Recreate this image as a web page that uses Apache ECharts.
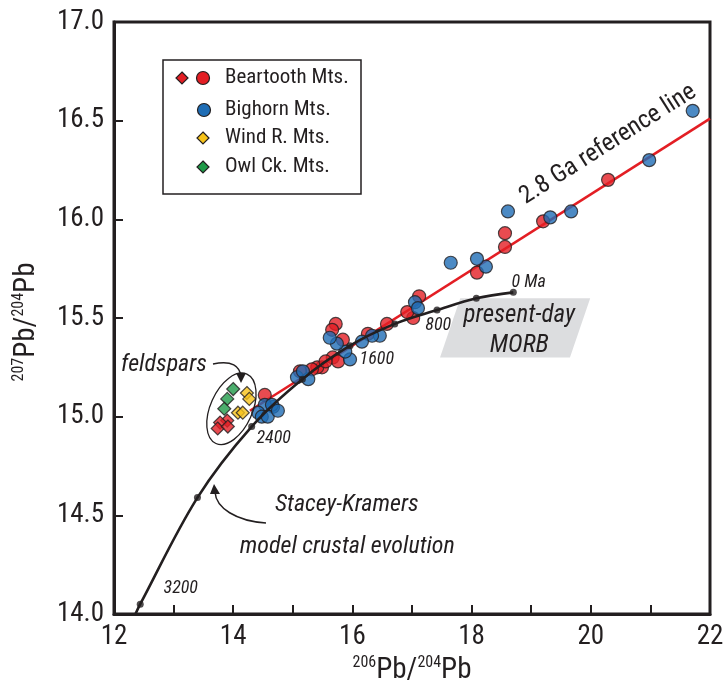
<!DOCTYPE html>
<html><head><meta charset="utf-8">
<script src="https://cdn.jsdelivr.net/npm/echarts@6/dist/echarts.min.js"></script>
<style>html,body{margin:0;padding:0;background:#fff}#c{width:727px;height:690px}</style>
</head><body><div id="c"></div>
<script>
// ---- data ----
const beartoothCircX = [20.29, 19.20, 18.56, 18.56, 18.09, 17.12, 17.02, 16.92, 16.58, 16.26, 15.72, 15.66, 15.84, 15.67, 15.76, 15.49, 15.41, 15.32, 15.12, 14.53, 15.55];
const beartoothCircY = [16.20, 15.99, 15.93, 15.86, 15.73, 15.61, 15.50, 15.53, 15.47, 15.42, 15.47, 15.44, 15.39, 15.30, 15.28, 15.25, 15.25, 15.24, 15.23, 15.11, 15.28];
const bighornX = [21.71, 20.98, 19.67, 19.32, 18.61, 18.24, 18.09, 17.65, 17.05, 17.10, 16.46, 16.33, 16.16, 15.96, 15.88, 15.74, 15.62, 15.26, 15.07, 15.17, 14.67, 14.53, 14.42, 14.65, 14.48, 14.58, 14.75];
const bighornY = [16.55, 16.30, 16.04, 16.01, 16.04, 15.76, 15.80, 15.78, 15.58, 15.55, 15.41, 15.41, 15.38, 15.29, 15.33, 15.37, 15.40, 15.19, 15.20, 15.23, 15.05, 15.06, 15.02, 15.06, 15.00, 15.00, 15.03];
const beartoothDiaX = [13.90, 13.78, 13.74, 13.91];
const beartoothDiaY = [14.98, 14.97, 14.94, 14.95];
const windX = [14.23, 14.27, 14.08, 14.16];
const windY = [15.12, 15.09, 15.02, 15.02];
const owlX = [14.00, 13.90, 13.85];
const owlY = [15.14, 15.09, 15.04];
// Stacey-Kramers model curve (first point = where it leaves the axis)
const skX = [12.36, 12.44, 13.40, 14.31, 15.16, 15.96, 16.71, 17.42, 18.08, 18.70];
const skY = [14.00, 14.05, 14.59, 14.95, 15.19, 15.36, 15.47, 15.54, 15.60, 15.63];
// 2.8 Ga reference line end points
const refX = [14.28, 22.0];
const refY = [15.03, 16.51];
const xLabels = [12, 14, 16, 18, 20, 22];

const F = '"Liberation Sans Narrow","Roboto Condensed","Open Sans",sans-serif';
const INK = '#231f20';
const RED = '#e31e24', BLUE = '#1f6db5', YEL = '#f7c31a', GRN = '#1f9a48';

const zip = (a, b) => a.map((v, i) => [v, b[i]]);
const chart = echarts.init(document.getElementById('c'), null, {renderer: 'canvas'});

const mk = {borderColor: INK, borderWidth: 1.2};
chart.setOption({
  animation: false,
  grid: {left: 114, right: 17, top: 22, bottom: 76, show: true, borderColor: INK, borderWidth: 3, backgroundColor: 'transparent'},
  xAxis: {type: 'value', min: 12, max: 22, interval: 1,
    axisLine: {onZero: false, lineStyle: {color: INK, width: 3}},
    axisTick: {inside: true, length: 9, lineStyle: {color: INK, width: 2}},
    axisLabel: {fontFamily: F, fontSize: 27, color: INK, margin: 10,
      formatter: v => xLabels.indexOf(v) >= 0 ? String(v) : ''},
    splitLine: {show: false}},
  yAxis: {type: 'value', min: 14, max: 17, interval: 0.5,
    axisLine: {onZero: false, lineStyle: {color: INK, width: 3}},
    axisTick: {inside: true, length: 9, lineStyle: {color: INK, width: 2}},
    axisLabel: {fontFamily: F, fontSize: 27, color: INK, margin: 10, formatter: v => v.toFixed(1)},
    splitLine: {show: false}},
  series: [
    {type: 'line', data: zip(refX, refY), showSymbol: false, lineStyle: {color: RED, width: 2.6}, z: 1},
    {type: 'scatter', data: zip(beartoothCircX, beartoothCircY), symbol: 'circle', symbolSize: 13, itemStyle: Object.assign({color: RED}, mk), z: 3},
    {type: 'scatter', data: zip(bighornX, bighornY), symbol: 'circle', symbolSize: 13, itemStyle: Object.assign({color: BLUE}, mk), z: 3},
    {type: 'scatter', data: zip(beartoothDiaX, beartoothDiaY), symbol: 'diamond', symbolSize: 13, itemStyle: Object.assign({color: RED}, mk), z: 3},
    {type: 'scatter', data: zip(windX, windY), symbol: 'diamond', symbolSize: 13, itemStyle: Object.assign({color: YEL}, mk), z: 3},
    {type: 'scatter', data: zip(owlX, owlY), symbol: 'diamond', symbolSize: 13, itemStyle: Object.assign({color: GRN}, mk), z: 3},
    {type: 'line', data: zip(skX, skY), smooth: 0.35, showSymbol: false, lineStyle: {color: INK, width: 2.6}, z: 4},
    {type: 'scatter', data: zip(skX.slice(1), skY.slice(1)), symbol: 'circle', symbolSize: 7, itemStyle: {color: INK}, z: 5}
  ]
});

const P = (x, y) => chart.convertToPixel({gridIndex: 0}, [x, y]);
const g = [];
function txt(x, y, s, o) {
  g.push({type: 'text', x: x, y: y, z: 20,
    style: Object.assign({text: s, fontFamily: F, fontSize: 20, fill: INK, align: 'center', verticalAlign: 'middle'}, o || {})});
}
function ital(px, s, size, align) {
  txt(px[0], px[1], s, {fontStyle: 'italic', fontSize: size, align: align || 'center'});
}
// gray MORB box
const m1 = P(17.81, 15.60), m2 = P(19.99, 15.60), m3 = P(19.65, 15.30), m4 = P(17.47, 15.30);
g.push({type: 'polygon', z: 0, shape: {points: [m1, m2, m3, m4]}, style: {fill: '#dcdddf'}});
// ref line label rotated along the line
const r1 = P(refX[0], refY[0]), r2 = P(refX[1], refY[1]);
const ang = Math.atan2(r1[1] - r2[1], r2[0] - r1[0]);
const rp = P(20.29, 16.38);
g.push({type: 'text', x: rp[0], y: rp[1], rotation: ang, z: 20,
  style: {text: '2.8 Ga reference line', fontFamily: F, fontSize: 25, fill: INK, align: 'center', verticalAlign: 'middle'}});
ital(P(18.67, 15.68), '0 Ma', 18, 'left');
ital(P(17.44, 15.46), '800', 18);
ital(P(16.41, 15.29), '1600', 18);
ital(P(14.68, 14.89), '2400', 18);
ital(P(13.12, 14.13), '3200', 18);
ital(P(18.80, 15.51), 'present-day', 25);
ital(P(18.80, 15.36), 'MORB', 25);
ital(P(13.56, 15.26), 'feldspars', 24, 'right');
ital(P(14.70, 14.55), 'Stacey-Kramers', 24, 'left');
ital(P(14.11, 14.34), 'model crustal evolution', 24, 'left');
// feldspar ellipse
const ec = P(13.97, 15.04);
g.push({type: 'ellipse', x: ec[0], y: ec[1], rotation: -0.42, z: 6, shape: {cx: 0, cy: 0, rx: 21, ry: 38}, style: {fill: 'none', stroke: INK, lineWidth: 1.3}});
// arrows
g.push({type: 'bezierCurve', z: 20, shape: {x1: 213, y1: 364, cpx1: 232, cpy1: 360, cpx2: 240, cpy2: 366, x2: 241, y2: 377}, style: {stroke: INK, lineWidth: 1.5, fill: 'none'}});
g.push({type: 'polygon', z: 20, shape: {points: [[236, 373], [246, 373], [241, 383]]}, style: {fill: INK}});
g.push({type: 'bezierCurve', z: 20, shape: {x1: 266, y1: 523, cpx1: 236, cpy1: 521, cpx2: 216, cpy2: 508, x2: 215, y2: 492}, style: {stroke: INK, lineWidth: 1.5, fill: 'none'}});
g.push({type: 'polygon', z: 20, shape: {points: [[210, 494], [220, 494], [214, 484]]}, style: {fill: INK}});
// legend
g.push({type: 'rect', z: 10, shape: {x: 163, y: 60, width: 198, height: 134}, style: {fill: '#fff', stroke: INK, lineWidth: 1.5}});
const legRows = [[78, 'Beartooth Mts.'], [110, 'Bighorn Mts.'], [138, 'Wind R. Mts.'], [167, 'Owl Ck. Mts.']];
function sym(type, x, y, color) {
  if (type === 'c') g.push({type: 'circle', z: 11, shape: {cx: x, cy: y, r: 6.5}, style: {fill: color, stroke: INK, lineWidth: 1.2}});
  else g.push({type: 'polygon', z: 11, shape: {points: [[x, y - 6], [x + 6, y], [x, y + 6], [x - 6, y]]}, style: {fill: color, stroke: INK, lineWidth: 1.2}});
}
sym('d', 182, 78, RED); sym('c', 203, 78, RED);
sym('c', 204, 110, BLUE);
sym('d', 203, 138, YEL);
sym('d', 203, 167, GRN);
legRows.forEach(r => txt(225, r[0], r[1], {align: 'left', fontSize: 21}));
// axis titles
g.push({type: 'text', x: 412, y: 670, z: 20, style: {text: '{s|206}{b|Pb/}{s|204}{b|Pb}', align: 'center', verticalAlign: 'middle',
  rich: {b: {fontFamily: F, fontSize: 29, fill: INK, verticalAlign: 'bottom', lineHeight: 30}, s: {fontFamily: F, fontSize: 16, fill: INK, verticalAlign: 'top', lineHeight: 30}}}});
g.push({type: 'text', x: 26, y: 322, rotation: Math.PI / 2, z: 20, style: {text: '{s|207}{b|Pb/}{s|204}{b|Pb}', align: 'center', verticalAlign: 'middle',
  rich: {b: {fontFamily: F, fontSize: 29, fill: INK, verticalAlign: 'bottom', lineHeight: 30}, s: {fontFamily: F, fontSize: 16, fill: INK, verticalAlign: 'top', lineHeight: 30}}}});
chart.setOption({graphic: {elements: g}});
</script></body></html>
